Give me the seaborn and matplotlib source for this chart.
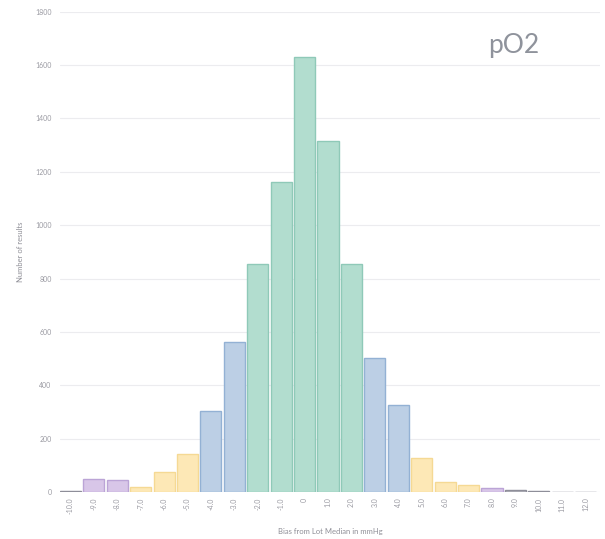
import matplotlib
matplotlib.use("Agg")
import matplotlib.pyplot as plt
import seaborn as sns
import pandas as pd

labels = ["-10.0", "-9.0", "-8.0", "-7.0", "-6.0", "-5.0", "-4.0", "-3.0", "-2.0", "-1.0",
          "0", "1.0", "2.0", "3.0", "4.0", "5.0", "6.0", "7.0", "8.0", "9.0", "10.0", "11.0", "12.0"]
counts = [2, 49, 45, 19, 75, 142, 304, 562, 855, 1162, 1630, 1316, 855, 502, 326, 128, 37, 26, 15, 7, 3, 1, 1]
groups = ["gray", "purple", "purple", "yellow", "yellow", "yellow", "blue", "blue", "green", "green",
          "green", "green", "green", "blue", "blue", "yellow", "yellow", "yellow", "purple", "gray",
          "gray", "gray", "gray"]

fills = {"green": "#b2ddcf", "blue": "#bccfe5", "yellow": "#fde8b6", "purple": "#d8c6e8", "gray": "#b8b8c0"}
edges = {"green": "#8fc9b8", "blue": "#93b1d4", "yellow": "#f5d994", "purple": "#bba4d6", "gray": "#8e8e99"}

df = pd.DataFrame({"bias": labels, "count": counts, "group": groups})

sns.set_theme(style="white")
plt.rcParams["font.family"] = ["Lato", "DejaVu Sans"]

fig = plt.figure(figsize=(6.05, 5.39), dpi=100)
ax = fig.add_axes([0.099, 0.0872, 0.893, 0.891])

sns.barplot(data=df, x="bias", y="count", hue="bias", order=labels, hue_order=labels,
            palette=[fills[g] for g in groups], legend=False, dodge=False, width=0.9,
            saturation=1, ax=ax)

for cont, g in zip(ax.containers, groups):
    for p in cont:
        p.set_edgecolor(edges[g])
        p.set_linewidth(1.0)

ax.set_ylim(0, 1800)
ax.set_xlim(-0.45, 22.62)
ax.set_yticks(range(0, 1801, 200))
ax.yaxis.grid(True, color="#ececef", linewidth=0.8)
ax.set_axisbelow(True)
for s in ax.spines.values():
    s.set_visible(False)

ax.tick_params(axis="y", labelsize=5, colors="#9a9aa2", length=0, pad=6)
ax.tick_params(axis="x", labelsize=5, colors="#9a9aa2", length=0, pad=4, rotation=90)
ax.set_xlabel("Bias from Lot Median in mmHg", fontsize=5.5, color="#8e8e96", labelpad=10)
ax.set_ylabel("Number of results", fontsize=5.5, color="#8e8e96", labelpad=8)

ax.text(0.84, 0.93, "pO2", transform=ax.transAxes, fontsize=19, color="#8f939c",
        ha="center", va="center")

fig.savefig("out.png", dpi=100, facecolor="white")
